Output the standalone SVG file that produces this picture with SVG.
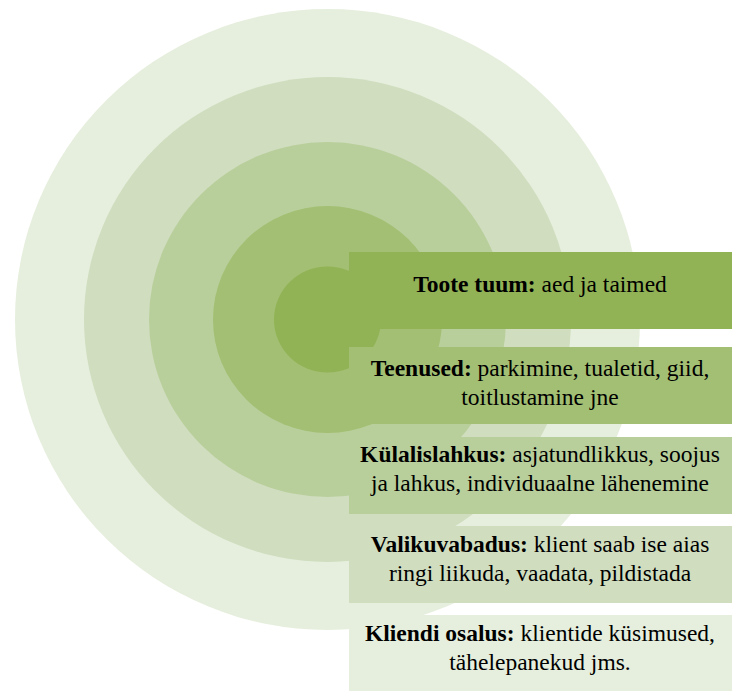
<svg xmlns="http://www.w3.org/2000/svg" width="732" height="691" viewBox="0 0 732 691">
<style>
.c1{fill:#E6EFDD}.c2{fill:#D0DDBF}.c3{fill:#B8CF9B}.c4{fill:#A3BF73}.c5{fill:#92B355}
text{font-family:"Liberation Serif","Times New Roman",serif;font-size:23.5px;fill:#000;text-anchor:middle}
.b{font-weight:bold}
</style>
<rect width="732" height="691" fill="#fff"/>
<g id="rings">
<ellipse class="c1" cx="327.5" cy="319.5" rx="312.5" ry="310.5"/>
<ellipse class="c2" cx="327.5" cy="319.5" rx="243.5" ry="242.5"/>
<ellipse class="c3" cx="327.5" cy="319.5" rx="178.5" ry="177.5"/>
<ellipse class="c4" cx="327.5" cy="319.5" rx="114.5" ry="113.5"/>
<ellipse class="c5" cx="327.5" cy="319.5" rx="53.5" ry="53"/>
</g>
<g id="node-tuum">
<rect class="c5" x="349" y="252" width="383" height="77"/>
<text x="540" y="291.5"><tspan class="b">Toote tuum:</tspan> aed ja taimed</text>
</g>
<g id="node-teenused">
<rect class="c4" x="349" y="347" width="383" height="77"/>
<text x="540" y="375.5"><tspan class="b">Teenused:</tspan> parkimine, tualetid, giid,</text>
<text x="540" y="404.5">toitlustamine jne</text>
</g>
<g id="node-kylalislahkus">
<rect class="c3" x="349" y="437" width="383" height="77"/>
<text x="540" y="462"><tspan class="b">Külalislahkus:</tspan> asjatundlikkus, soojus</text>
<text x="540" y="491">ja lahkus, individuaalne lähenemine</text>
</g>
<g id="node-valikuvabadus">
<rect class="c2" x="349" y="526" width="383" height="77"/>
<text x="540" y="552"><tspan class="b">Valikuvabadus:</tspan> klient saab ise aias</text>
<text x="540" y="580.5">ringi liikuda, vaadata, pildistada</text>
</g>
<g id="node-osalus">
<rect class="c1" x="349" y="615" width="383" height="76"/>
<text x="540" y="641"><tspan class="b">Kliendi osalus:</tspan> klientide küsimused,</text>
<text x="540" y="669.5">tähelepanekud jms.</text>
</g>
</svg>
